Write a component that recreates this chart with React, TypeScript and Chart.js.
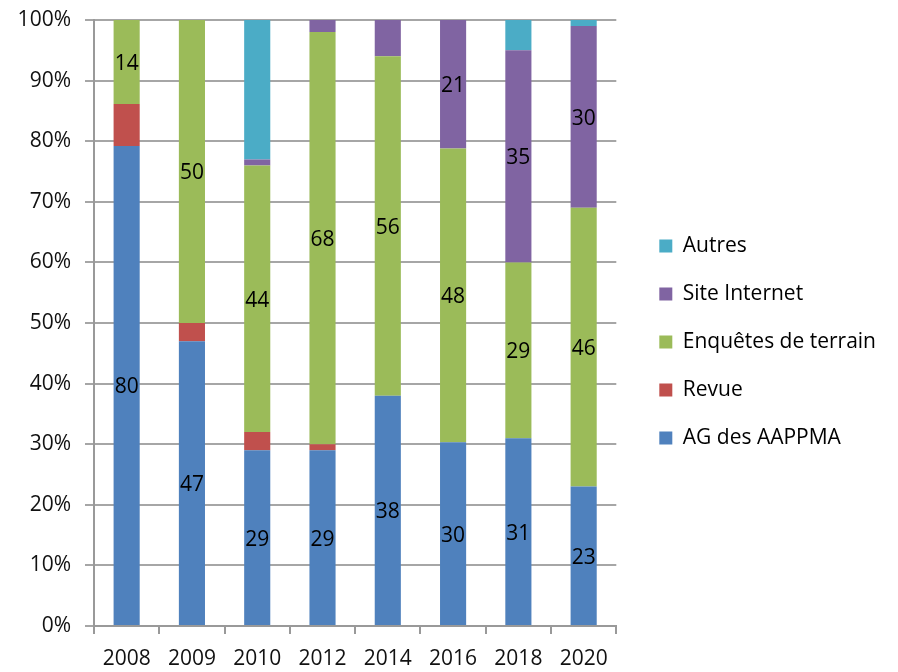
import React, { useEffect, useRef } from 'react';
import { Chart, registerables } from 'chart.js';

Chart.register(...registerables);

const years = ['2008', '2009', '2010', '2012', '2014', '2016', '2018', '2020'];
const agAappma = [80, 47, 29, 29, 38, 30, 31, 23];
const revue = [7, 3, 3, 1, 0, 0, 0, 0];
const enquetes = [14, 50, 44, 68, 56, 48, 29, 46];
const siteInternet = [0, 0, 1, 2, 6, 21, 35, 30];
const autres = [0, 0, 23, 0, 0, 0, 5, 1];

const seriesNames = ['AG des AAPPMA', 'Revue', 'Enquêtes de terrain', 'Site Internet', 'Autres'];
const seriesColors = ['#4F81BD', '#C0504D', '#9BBB59', '#8064A2', '#4BACC6'];
const seriesLabelled = [true, false, true, true, false];
const yTickValues = [0, 10, 20, 30, 40, 50, 60, 70, 80, 90, 100];

const FONT = '"Open Sans", sans-serif';
const FS = 21;

const segLabels = {
  id: 'segLabels',
  afterDatasetsDraw(chart: any) {
    const ctx = chart.ctx;
    ctx.save();
    ctx.font = `${FS}px ${FONT}`;
    ctx.fillStyle = '#000';
    ctx.textAlign = 'center';
    ctx.textBaseline = 'middle';
    chart.data.datasets.forEach((ds: any, i: number) => {
      if (!ds.showLabels) return;
      const meta = chart.getDatasetMeta(i);
      meta.data.forEach((el: any, j: number) => {
        const raw = ds.raw[j];
        if (raw < 10) return;
        const p = el.getProps(['x', 'y', 'base'], true);
        ctx.fillText(String(raw), p.x, (p.y + p.base) / 2 + 2);
      });
    });
    ctx.restore();
  },
};

export default function App() {
  const ref = useRef<HTMLCanvasElement>(null);
  useEffect(() => {
    const all = [agAappma, revue, enquetes, siteInternet, autres];
    const totals = years.map((_, j) => all.reduce((s, arr) => s + arr[j], 0));
    const datasets = all.map((arr, i) => ({
      label: seriesNames[i],
      data: arr.map((v, j) => (v / totals[j]) * 100),
      raw: arr,
      showLabels: seriesLabelled[i],
      backgroundColor: seriesColors[i],
      borderWidth: 0,
      barPercentage: 0.4,
      categoryPercentage: 1.0,
    }));
    Chart.defaults.font.family = FONT;
    Chart.defaults.font.size = FS;
    const chart = new Chart(ref.current!, {
      type: 'bar',
      data: { labels: years, datasets: datasets as any },
      options: {
        animation: false,
        responsive: false,
        maintainAspectRatio: false,
        layout: { padding: { top: 12, left: 0, right: 12, bottom: 0 } },
        plugins: {
          tooltip: { enabled: false },
          legend: {
            position: 'right',
            reverse: true,
            maxWidth: 320,
            labels: {
              boxWidth: 13,
              boxHeight: 13,
              padding: 27,
              color: '#000',
              font: { size: FS, family: FONT },
            },
          },
        },
        scales: {
          x: {
            stacked: true,
            afterFit: (s: any) => {
              s.height = 46;
            },
            grid: {
              display: true,
              drawOnChartArea: false,
              drawTicks: true,
              tickLength: 8,
              color: '#999',
              lineWidth: 2,
              offset: true,
            },
            border: { display: true, color: '#999', width: 2 },
            ticks: { color: '#111', padding: 12, font: { size: FS, family: FONT } },
          },
          y: {
            stacked: true,
            min: 0,
            max: 100,
            afterBuildTicks: (s: any) => {
              s.ticks = yTickValues.map((v) => ({ value: v }));
            },
            afterFit: (s: any) => {
              s.width = 94;
              s.paddingTop = 20;
              s.paddingBottom = 0;
            },
            grid: { color: '#a6a6a6', lineWidth: 2, drawTicks: true, tickLength: 9 },
            border: { display: true, color: '#999', width: 2 },
            ticks: {
              color: '#111',
              padding: 14,
              font: { size: FS, family: FONT },
              callback: (v: any) => `${v}%`,
            },
          },
          spacer: {
            type: 'linear',
            position: 'right',
            display: true,
            grid: { display: false, drawTicks: false },
            ticks: { display: false },
            border: { display: false },
            afterFit: (s: any) => {
              s.width = 16;
              s.paddingTop = 0;
              s.paddingBottom = 0;
            },
          },
        } as any,
      },
      plugins: [segLabels],
    });
    return () => chart.destroy();
  }, []);
  return (
    <div style={{ position: 'absolute', left: 0, top: 0, width: 898, height: 672, background: '#fff' }}>
      <canvas ref={ref} width={898} height={672} style={{ display: 'block' }} />
    </div>
  );
}
